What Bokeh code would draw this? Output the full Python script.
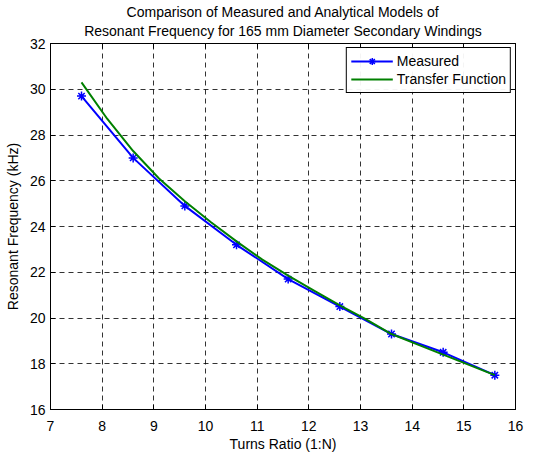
from bokeh.plotting import figure
from bokeh.models import LinearAxis, Title, Range1d, FixedTicker, Legend, LegendItem
from bokeh.embed import file_html
from bokeh.resources import INLINE

turns = [7.6, 8.6, 9.6, 10.6, 11.6, 12.6, 13.6, 14.6, 15.6]
measured = [29.7, 27.0, 24.9, 23.2, 21.7, 20.5, 19.3, 18.5, 17.5]

tf_turns = [7.6, 8.1, 8.6, 9.1, 9.6, 10.1, 10.6, 11.1, 11.6, 12.1, 12.6,
            13.1, 13.6, 14.1, 14.6, 15.1, 15.6]
tf_freq = [30.3, 28.7, 27.3, 26.1, 25.1, 24.2, 23.35, 22.55, 21.85, 21.2, 20.55,
           19.95, 19.3, 18.85, 18.4, 17.95, 17.5]

x_ticks = list(range(7, 17))
y_ticks = list(range(16, 33, 2))

FONT = "Liberation Sans"
FS = "14px"

p = figure(width=535, height=455, output_backend="svg", toolbar_location=None,
           x_range=Range1d(7, 16), y_range=Range1d(16, 32),
           min_border_left=50, min_border_right=20, min_border_bottom=46, min_border_top=43)
p.title = None
xa = p.below[0]
ya = p.left[0]

top = LinearAxis(ticker=FixedTicker(ticks=x_ticks),
                 major_label_overrides={t: "" for t in x_ticks},
                 major_label_standoff=0, axis_label_standoff=0,
                 major_tick_in=5, major_tick_out=0, minor_tick_in=0, minor_tick_out=0,
                 axis_line_color="black")
right = LinearAxis(ticker=FixedTicker(ticks=y_ticks),
                   major_label_overrides={t: "" for t in y_ticks},
                   major_label_standoff=0, axis_label_standoff=0,
                   major_tick_in=5, major_tick_out=0, minor_tick_in=0, minor_tick_out=0,
                   axis_line_color="black")
p.add_layout(top, "above")
p.add_layout(right, "right")

p.add_layout(Title(text="Resonant Frequency for 165 mm Diameter Secondary Windings",
                   align="center", vertical_align="top", standoff=6,
                   text_font=FONT, text_font_size=FS, text_font_style="normal",
                   text_color="black"), "above")
p.add_layout(Title(text="Comparison of Measured and Analytical Models of",
                   align="center", standoff=0,
                   text_font=FONT, text_font_size=FS, text_font_style="normal",
                   text_color="black"), "above")

p.outline_line_color = "black"
p.outline_line_width = 1
p.background_fill_color = "white"
p.border_fill_color = "white"

for ax in [xa, ya]:
    ax.major_tick_in = 5
    ax.major_tick_out = 0
    ax.minor_tick_in = 0
    ax.minor_tick_out = 0
    ax.axis_line_color = "black"
    ax.major_tick_line_color = "black"
    ax.major_label_text_font = FONT
    ax.major_label_text_font_size = FS
    ax.major_label_text_color = "black"
    ax.axis_label_text_font = FONT
    ax.axis_label_text_font_size = FS
    ax.axis_label_text_font_style = "normal"
    ax.axis_label_text_color = "black"

xa.ticker = FixedTicker(ticks=x_ticks)
ya.ticker = FixedTicker(ticks=y_ticks)
xa.axis_label = "Turns Ratio (1:N)"
ya.axis_label = "Resonant Frequency (kHz)"
xa.axis_label_standoff = 2
ya.axis_label_standoff = 6
xa.major_label_standoff = 11
ya.major_label_standoff = 5

p.xgrid[0].ticker = FixedTicker(ticks=x_ticks)
p.ygrid[0].ticker = FixedTicker(ticks=y_ticks)
for g in [p.xgrid[0], p.ygrid[0]]:
    g.grid_line_color = "black"
    g.grid_line_dash = "5 4"
    g.grid_line_width = 1
    g.grid_line_alpha = 0.8

r1 = p.line(turns, measured, line_color="blue", line_width=2)
r1m = p.scatter(turns, measured, marker="asterisk", size=9, line_color="blue", line_width=1.5)
r2 = p.line(tf_turns, tf_freq, line_color="green", line_width=2)

legend = Legend(items=[LegendItem(label="Measured", renderers=[r1, r1m]),
                       LegendItem(label="Transfer Function", renderers=[r2])],
                location="top_right")
legend.label_text_font = FONT
legend.label_text_font_size = FS
legend.label_text_color = "black"
legend.border_line_color = "black"
legend.border_line_width = 1
legend.border_line_alpha = 1
legend.margin = 4
legend.padding = 4
legend.spacing = 0
legend.glyph_width = 42
legend.glyph_height = 18
legend.label_height = 18
legend.label_standoff = 4
p.add_layout(legend)

open("out.html", "w").write(file_html(p, INLINE))
